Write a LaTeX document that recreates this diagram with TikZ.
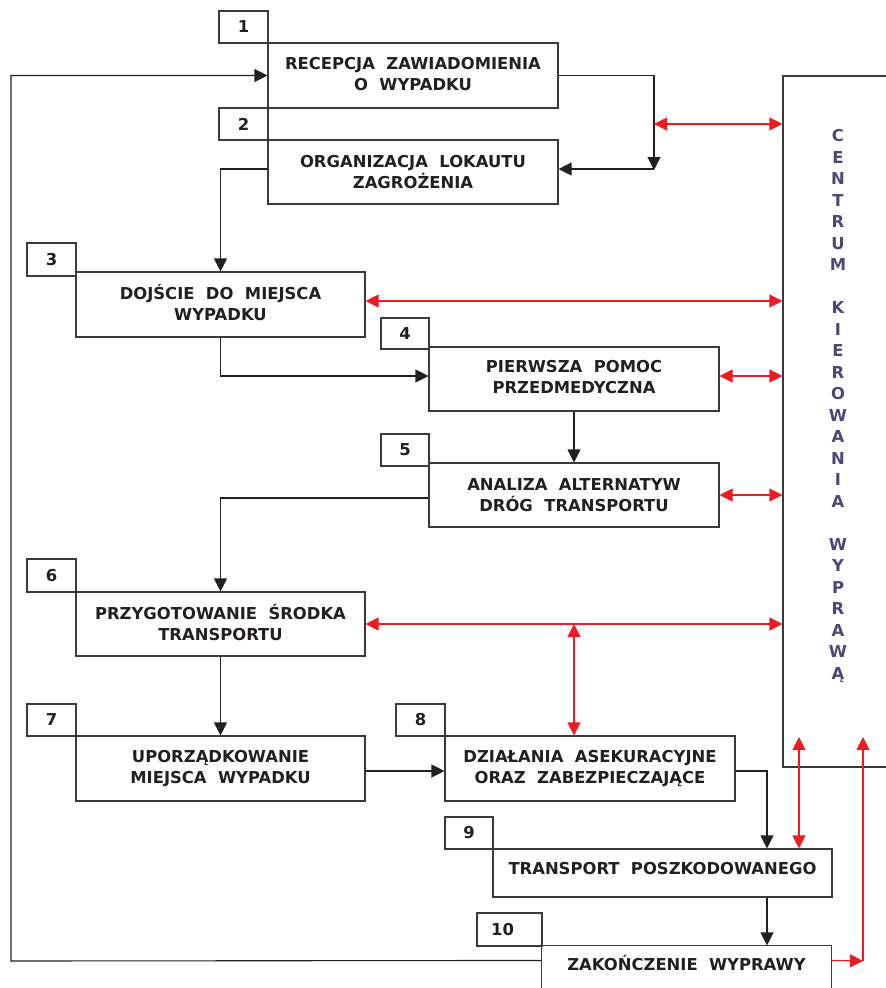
\documentclass[tikz,border=0pt]{standalone}
\usepackage{fontspec}
\setmainfont{DejaVu Sans}
\usetikzlibrary{arrows.meta}

\definecolor{ink}{HTML}{231F20}
\definecolor{frame}{HTML}{3A3A3A}
\definecolor{linkred}{HTML}{ED1C24}
\definecolor{centre}{HTML}{4B4878}

\tikzset{
  stepbox/.style={draw=frame, line width=1.1pt, rectangle, inner sep=0pt,
    align=center, text=ink, font=\fontsize{16.4}{21}\selectfont\bfseries},
  numbox/.style={draw=frame, line width=1.1pt, rectangle, inner sep=0pt,
    text=ink, font=\fontsize{16.4}{19}\selectfont\bfseries},
  flow/.style={draw=ink, line width=1.1pt, -{Triangle[length=13pt,width=13pt]}},
  link/.style={draw=linkred, line width=1.1pt,
    {Triangle[length=13pt,width=13pt]}-{Triangle[length=13pt,width=13pt]}},
  linkone/.style={draw=linkred, line width=1.1pt, -{Triangle[length=13pt,width=13pt]}},
}

\begin{document}
\begin{tikzpicture}[x=1pt, y=-1pt]
  \useasboundingbox (0,0) rectangle (886,988);
  \clip (0,0) rectangle (886,988);

  % steering centre on the right
  \node[draw=frame, line width=1.1pt, rectangle, inner sep=0pt,
        minimum width=110pt, minimum height=691pt] (cent) at (838,421.5) {};
  \node[text=centre, align=center, inner sep=0pt,
        font=\fontsize{16.4}{21.5}\selectfont\bfseries] (centtxt) at (838,406)
    {C\\E\\N\\T\\R\\U\\M\\[21.5pt]K\\I\\E\\R\\O\\W\\A\\N\\I\\A\\[21.5pt]W\\Y\\P\\R\\A\\W\\Ą};

  % process steps
  \node[stepbox, minimum width=290pt, minimum height=65pt] (b1) at (413,75.5)
    {RECEPCJA~~ZAWIADOMIENIA\\O~~WYPADKU\rule[-4pt]{0pt}{0pt}};
  \node[numbox, minimum width=49pt, minimum height=32pt] (n1) at (243.5,27) {1};

  \node[stepbox, minimum width=290pt, minimum height=64pt] (b2) at (413,172)
    {ORGANIZACJA~~LOKAUTU\\ZAGROŻENIA};
  \node[numbox, minimum width=49pt, minimum height=32pt] (n2) at (243.5,124) {2};

  \node[stepbox, minimum width=289pt, minimum height=65pt] (b3) at (220.5,304.5)
    {DOJŚCIE~~DO~~MIEJSCA\\WYPADKU\rule[-4pt]{0pt}{0pt}};
  \node[numbox, minimum width=49pt, minimum height=33pt] (n3) at (51.5,259.5) {3};

  \node[stepbox, minimum width=290pt, minimum height=64pt] (b4) at (574,379)
    {PIERWSZA~~POMOC\\PRZEDMEDYCZNA\rule[-4pt]{0pt}{0pt}};
  \node[numbox, minimum width=48pt, minimum height=31pt] (n4) at (405,333.5) {4};

  \node[stepbox, minimum width=290pt, minimum height=64pt] (b5) at (574,495)
    {ANALIZA~~ALTERNATYW\\DRÓG~~TRANSPORTU};
  \node[numbox, minimum width=48pt, minimum height=32pt] (n5) at (405,450) {5};

  \node[stepbox, minimum width=289pt, minimum height=64pt] (b6) at (220.5,624)
    {PRZYGOTOWANIE~~ŚRODKA\\TRANSPORTU\rule[-4pt]{0pt}{0pt}};
  \node[numbox, minimum width=49pt, minimum height=33pt] (n6) at (51.5,575.5) {6};

  \node[stepbox, minimum width=289pt, minimum height=65pt] (b7) at (220.5,768.5)
    {UPORZĄDKOWANIE\\MIEJSCA~~WYPADKU};
  \node[numbox, minimum width=49pt, minimum height=32pt] (n7) at (51.5,720) {7};

  \node[stepbox, minimum width=290pt, minimum height=65pt] (b8) at (590,768.5)
    {DZIAŁANIA~~ASEKURACYJNE\\ORAZ~~ZABEZPIECZAJĄCE};
  \node[numbox, minimum width=49pt, minimum height=32pt] (n8) at (420.5,720) {8};

  \node[stepbox, minimum width=339pt, minimum height=48pt] (b9) at (662.5,873)
    {TRANSPORT~~POSZKODOWANEGO\rule[-10pt]{0pt}{0pt}};
  \node[numbox, minimum width=48pt, minimum height=32pt] (n9) at (469,833) {9};

  % last step runs past the lower edge: only its top and sides are drawn
  \node[stepbox, draw=none, minimum width=289pt, minimum height=34pt] (b10) at (686.5,963)
    {ZAKOŃCZENIE~~WYPRAWY};
  \draw[draw=frame, line width=1.1pt]
    ([yshift=-40pt]b10.south west) -- (b10.north west) -- (b10.north east) -- ([yshift=-40pt]b10.south east);
  \node[numbox, minimum width=65pt, minimum height=33pt] (n10) at (509.5,929.5) {\hspace*{-14pt}10};

  % helper points
  \coordinate (loopx) at (11,961);
  \coordinate (j12) at (654,170);
  \coordinate (j12b) at (654,169);
  \coordinate (r12) at (654,124);
  \coordinate (b2out) at ([yshift=3pt]b2.west);
  \coordinate (r3) at ([yshift=3.5pt]b3.east);
  \coordinate (b4in) at ([yshift=3pt]b4.west);
  \coordinate (r4) at ([yshift=3pt]b4.east);
  \coordinate (b5out) at ([yshift=-3pt]b5.west);
  \coordinate (r68) at (b4.south |- b6.east);
  \coordinate (m78) at ([yshift=-2.5pt]b7.east);
  \coordinate (x89) at (767,0);
  \coordinate (r9) at (799,737);
  \coordinate (r10) at (863,961);
  \coordinate (r10top) at (863,737);

  % main flow
  \draw[flow] ([yshift=-15pt]b10.north west) -- (loopx) |- (b1.west);
  \draw[flow] (b1.east) -| (j12);
  \draw[flow] (j12b) -- (j12b -| b2.east);
  \draw[flow] (b2out) -| (b3.north);
  \draw[flow] (b3.south) |- (b4in);
  \draw[flow] (b4.south) -- (b5.north);
  \draw[flow] (b5out) -| (b6.north);
  \draw[flow] (b6.south) -- (b7.north);
  \draw[flow] (m78) -- (m78 -| b8.west);
  \draw[flow] (m78 -| b8.east) -| (x89 |- b9.north);
  \draw[flow] (x89 |- b9.south) -- (x89 |- b10.north);

  % links with the steering centre
  \draw[link] (r12) -- (r12 -| cent.west);
  \draw[link] (r3) -- (r3 -| cent.west);
  \draw[link] (r4) -- (r4 -| cent.west);
  \draw[link] (b5.east) -- (b5.east -| cent.west);
  \draw[link] (b6.east) -- (b6.east -| cent.west);
  \draw[link] (r68) -- (r68 |- b8.north);
  \draw[link] (r9) -- (r9 |- b9.north);
  \draw[linkone] ([yshift=-15pt]b10.north east) -- (r10);
  \draw[linkone] (r10) -- (r10top);
\end{tikzpicture}
\end{document}
